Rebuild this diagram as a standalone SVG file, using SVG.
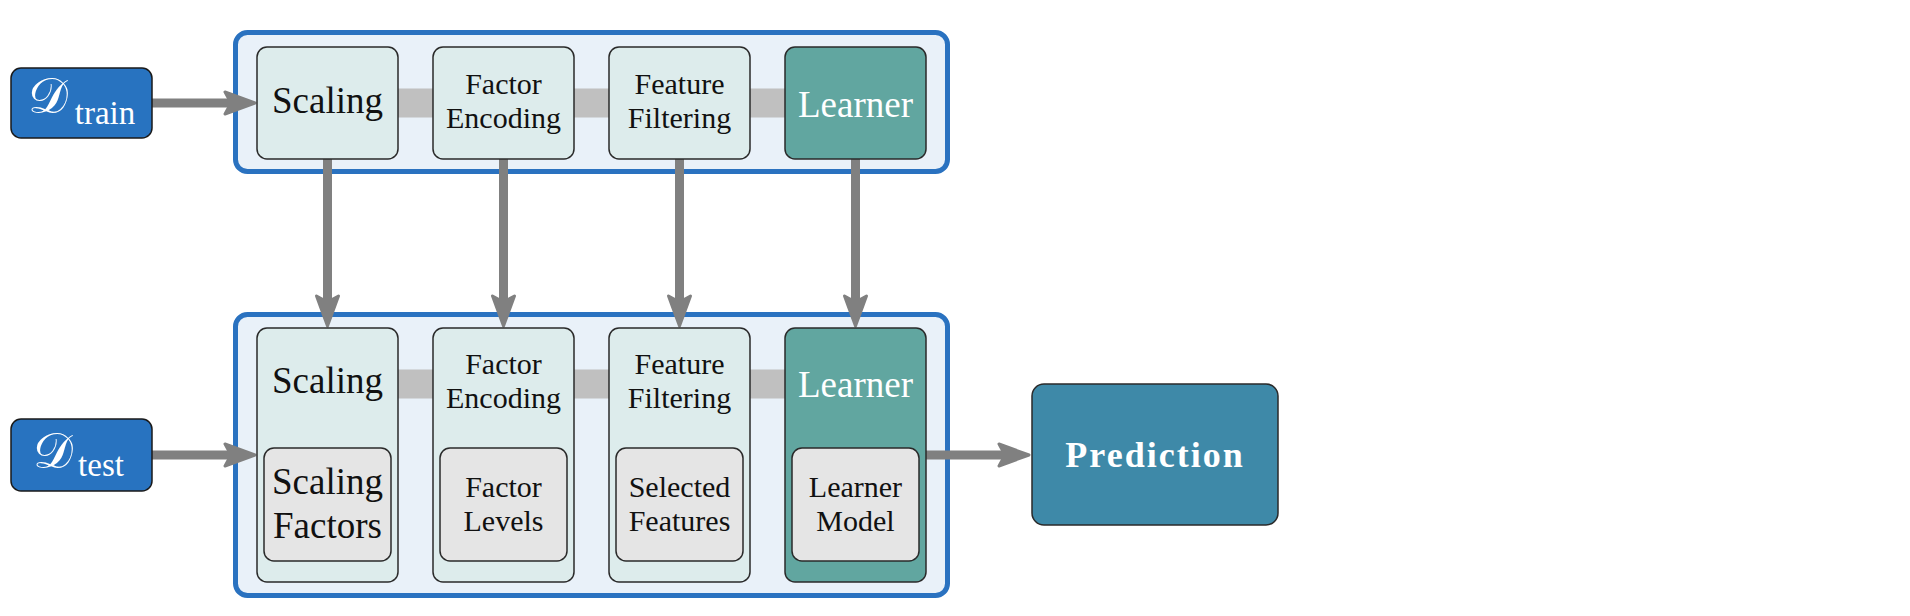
<svg xmlns="http://www.w3.org/2000/svg" width="1910" height="616" viewBox="0 0 1910 616">
<style>
text{font-family:"Liberation Serif","DejaVu Serif",serif;text-anchor:middle;fill:#111}
.w{fill:#fff}
.big{font-size:37px}
.sm{font-size:30px}
.cont{fill:#e9f1f9;stroke:#2a72c0;stroke-width:5}
.box{fill:#ddecec;stroke:#2a2a2a;stroke-width:1.5}
.lrn{fill:#61a6a0;stroke:#2a2a2a;stroke-width:1.5}
.inn{fill:#e5e5e5;stroke:#2a2a2a;stroke-width:1.5}
.ds{fill:#2873c0;stroke:#1a1a1a;stroke-width:1.5}
.pred{fill:#3e89a8;stroke:#2a2a2a;stroke-width:1.5}
.band{stroke:#c0c0c0;stroke-width:29}
.arr{stroke:#808080;stroke-width:9;fill:none;marker-end:url(#ah)}
</style>
<defs>
<marker id="ah" markerUnits="userSpaceOnUse" markerWidth="36" markerHeight="28" viewBox="0 0 36 28" refX="14" refY="14" orient="auto">
<path d="M3,3 L33,14 L3,25 L9,14 Z" fill="#808080" stroke="#808080" stroke-width="3" stroke-linejoin="round"/>
</marker>
</defs>
<rect width="1910" height="616" fill="#fff"/>
<g id="train-container"><rect class="cont" x="235.5" y="32.5" width="712" height="139" rx="12"/></g>
<g id="test-container"><rect class="cont" x="235.5" y="314.5" width="712" height="281" rx="12"/></g>
<g id="connectors">
<line class="band" x1="395" y1="103" x2="436" y2="103"/>
<line class="band" x1="571" y1="103" x2="612" y2="103"/>
<line class="band" x1="747" y1="103" x2="788" y2="103"/>
<line class="band" x1="395" y1="384" x2="436" y2="384"/>
<line class="band" x1="571" y1="384" x2="612" y2="384"/>
<line class="band" x1="747" y1="384" x2="788" y2="384"/>
<line class="arr" x1="152" y1="103" x2="236" y2="103"/>
<line class="arr" x1="152" y1="455" x2="236" y2="455"/>
<line class="arr" x1="327.5" y1="150" x2="327.5" y2="307"/>
<line class="arr" x1="503.5" y1="150" x2="503.5" y2="307"/>
<line class="arr" x1="679.5" y1="150" x2="679.5" y2="307"/>
<line class="arr" x1="855.5" y1="150" x2="855.5" y2="307"/>
<line class="arr" x1="926" y1="455" x2="1010" y2="455"/>
</g>
<g id="d-train">
<rect class="ds" x="11" y="68" width="141" height="70" rx="10"/>
<text class="w" x="48" y="113" font-size="50">𝒟</text>
<text class="w" x="105" y="124" font-size="33">train</text>
</g>
<g id="d-test">
<rect class="ds" x="11" y="419" width="141" height="72" rx="10"/>
<text class="w" x="53" y="468" font-size="50">𝒟</text>
<text class="w" x="101" y="476" font-size="33">test</text>
</g>
<g id="train-scaling"><rect class="box" x="257" y="47" width="141" height="112" rx="10"/><text class="big" x="327.5" y="113">Scaling</text></g>
<g id="train-factor-encoding"><rect class="box" x="433" y="47" width="141" height="112" rx="10"/><text class="sm" x="503.5" y="94">Factor</text><text class="sm" x="503.5" y="128">Encoding</text></g>
<g id="train-feature-filtering"><rect class="box" x="609" y="47" width="141" height="112" rx="10"/><text class="sm" x="679.5" y="94">Feature</text><text class="sm" x="679.5" y="128">Filtering</text></g>
<g id="train-learner"><rect class="lrn" x="785" y="47" width="141" height="112" rx="10"/><text class="big w" x="855.5" y="117">Learner</text></g>
<g id="test-scaling"><rect class="box" x="257" y="328" width="141" height="254" rx="10"/><text class="big" x="327.5" y="393">Scaling</text>
<rect class="inn" x="264" y="448" width="127" height="113" rx="10"/><text class="big" x="327.5" y="494">Scaling</text><text class="big" x="327.5" y="538">Factors</text></g>
<g id="test-factor-encoding"><rect class="box" x="433" y="328" width="141" height="254" rx="10"/><text class="sm" x="503.5" y="374">Factor</text><text class="sm" x="503.5" y="408">Encoding</text>
<rect class="inn" x="440" y="448" width="127" height="113" rx="10"/><text class="sm" x="503.5" y="497">Factor</text><text class="sm" x="503.5" y="531">Levels</text></g>
<g id="test-feature-filtering"><rect class="box" x="609" y="328" width="141" height="254" rx="10"/><text class="sm" x="679.5" y="374">Feature</text><text class="sm" x="679.5" y="408">Filtering</text>
<rect class="inn" x="616" y="448" width="127" height="113" rx="10"/><text class="sm" x="679.5" y="497">Selected</text><text class="sm" x="679.5" y="531">Features</text></g>
<g id="test-learner"><rect class="lrn" x="785" y="328" width="141" height="254" rx="10"/><text class="big w" x="855.5" y="397">Learner</text>
<rect class="inn" x="792" y="448" width="127" height="113" rx="10"/><text class="sm" x="855.5" y="497">Learner</text><text class="sm" x="855.5" y="531">Model</text></g>
<g id="prediction"><rect class="pred" x="1032" y="384" width="246" height="141" rx="12"/><text class="w" x="1155" y="467" font-size="36" font-weight="bold" letter-spacing="2">Prediction</text></g>
</svg>
